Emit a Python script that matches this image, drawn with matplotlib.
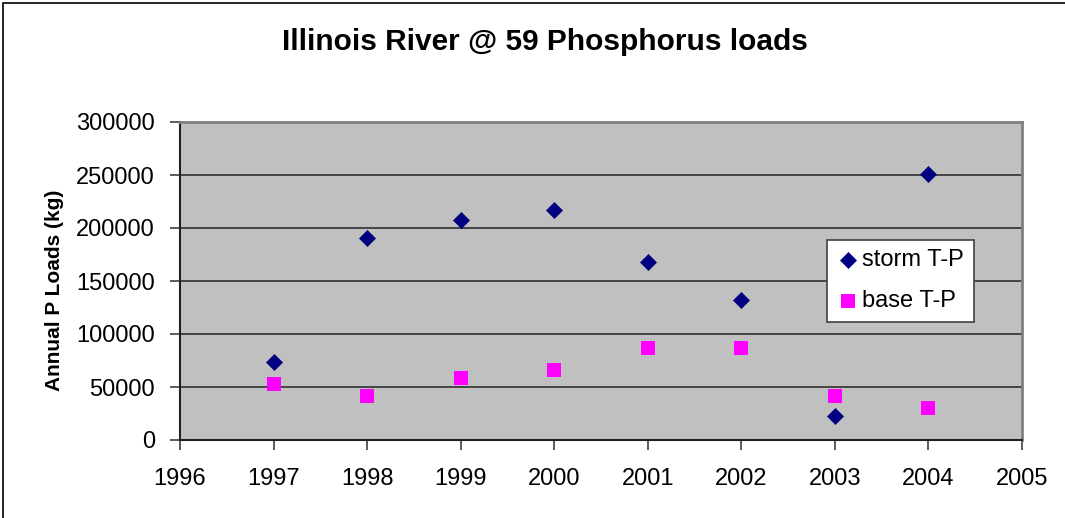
import matplotlib
matplotlib.use("Agg")
import matplotlib.pyplot as plt
from matplotlib.patches import Rectangle

plt.rcParams['font.family'] = ['Liberation Sans', 'DejaVu Sans']

years = [1997, 1998, 1999, 2000, 2001, 2002, 2003, 2004]
storm_tp = [74000, 190500, 207500, 217000, 168000, 132000, 22600, 251000]
base_tp = [53000, 41800, 58800, 66300, 86800, 86800, 41800, 30500]
x_ticks = list(range(1996, 2006))
y_ticks = list(range(0, 300001, 50000))

fig = plt.figure(figsize=(10.65, 5.18), dpi=100)
fig.patches.append(Rectangle((3/1065, -0.1), 1.2, (518-3)/518 + 0.1, transform=fig.transFigure,
                             fill=False, edgecolor='black', linewidth=1.2))
ax = fig.add_axes([180/1065, 1 - 440/518, (1022-180)/1065, (440-122)/518])
ax.set_facecolor('#c0c0c0')

ax.scatter(years, storm_tp, marker='D', s=75, color='#000080', label='storm T-P', zorder=3, linewidths=0)
ax.scatter(years, base_tp, marker='s', s=110, color='#ff00ff', label='base T-P', zorder=3, linewidths=0)

ax.set_xlim(1996, 2005)
ax.set_ylim(0, 300000)
ax.set_xticks(x_ticks)
ax.set_yticks(y_ticks)
ax.set_xticklabels([str(v) for v in x_ticks])
ax.set_yticklabels([str(v) for v in y_ticks])
ax.tick_params(axis='both', direction='out', length=7, width=1.2, labelsize=17, color='#404040')
ax.tick_params(axis='x', pad=13)
ax.tick_params(axis='y', pad=11)
ax.yaxis.grid(True, color='#3a3a3a', linewidth=1.3)
ax.set_axisbelow(True)
for s in ['top', 'right']:
    ax.spines[s].set_color('#808080')
    ax.spines[s].set_linewidth(2)
for s in ['left', 'bottom']:
    ax.spines[s].set_color('#202020')
    ax.spines[s].set_linewidth(1.5)

ax.set_ylabel('Annual P Loads (kg)', fontsize=15, fontweight='bold')
ax.yaxis.set_label_coords(-(180 - 64) / 842, 0.472)
fig.text(545/1065, 1 - 42/518, 'Illinois River @ 59 Phosphorus loads', ha='center', va='center',
         fontsize=21.5, fontweight='bold')

leg = ax.legend(loc='upper left', bbox_to_anchor=((827-180)/842, (440-240)/318), fontsize=17,
                frameon=True, fancybox=False, framealpha=1, edgecolor='#404040',
                handletextpad=0.1, handlelength=1.0, borderpad=0.4, labelspacing=0.8, borderaxespad=0)
leg.get_frame().set_linewidth(1.2)

fig.savefig('out.png', dpi=100)
